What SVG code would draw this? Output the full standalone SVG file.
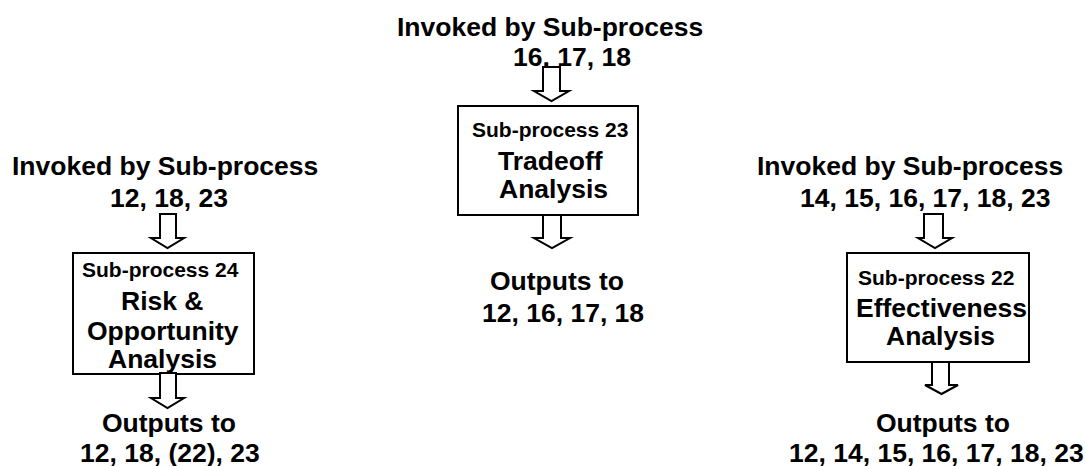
<svg xmlns="http://www.w3.org/2000/svg" width="1086" height="466" viewBox="0 0 1086 466">
<style>
text{font-family:"Liberation Sans",Arial,Helvetica,sans-serif;font-weight:bold;fill:#000}
.l{font-size:26.5px}
.s{font-size:21px}
.box{fill:#fff;stroke:#000;stroke-width:2}
.arr{fill:#fff;stroke:#000;stroke-width:2;stroke-linejoin:miter}
</style>
<rect width="1086" height="466" fill="#fff"/>
<g id="labels">
<text class="l" x="397" y="36">Invoked by Sub-process</text>
<text class="l" x="513" y="66">16, 17, 18</text>
<text class="l" x="490" y="290">Outputs to</text>
<text class="l" x="482" y="322">12, 16, 17, 18</text>
<text class="l" x="12" y="175">Invoked by Sub-process</text>
<text class="l" x="110" y="207">12, 18, 23</text>
<text class="l" x="102" y="432">Outputs to</text>
<text class="l" x="80" y="462">12, 18, (22), 23</text>
<text class="l" x="757" y="175">Invoked by Sub-process</text>
<text class="l" x="800" y="207">14, 15, 16, 17, 18, 23</text>
<text class="l" x="876" y="432">Outputs to</text>
<text class="l" x="789" y="462">12, 14, 15, 16, 17, 18, 23</text>
</g>
<g id="node23">
<rect class="box" x="458" y="106" width="180" height="109"/>
<text class="s" x="472" y="137">Sub-process 23</text>
<text class="l" x="498" y="170">Tradeoff</text>
<text class="l" x="499" y="198">Analysis</text>
</g>
<g id="node24">
<rect class="box" x="73" y="253" width="181" height="121"/>
<text class="s" x="82" y="277">Sub-process 24</text>
<text class="l" x="121" y="310">Risk &amp;</text>
<text class="l" x="87" y="340">Opportunity</text>
<text class="l" x="108" y="368">Analysis</text>
</g>
<g id="node22">
<rect class="box" x="847" y="253" width="182" height="109"/>
<text class="s" x="858" y="285">Sub-process 22</text>
<text class="l" x="856" y="317">Effectiveness</text>
<text class="l" x="886" y="345">Analysis</text>
</g>
<g id="connectors">
<path class="arr" d="M543,67 H560 V91 H569 L551.5,101 L534,91 H543 Z"/>
<path class="arr" d="M543,215 H561 V238 H570 L552,248 L534,238 H543 Z"/>
<path class="arr" d="M160,214 H176 V238 H184 L167.5,248 L151,238 H160 Z"/>
<path class="arr" d="M160,373 H176 V398 H184 L167.5,408 L151,398 H160 Z"/>
<path class="arr" d="M924,214 H943 V238 H952 L935,248 L918,238 H924 Z"/>
<path class="arr" d="M932,362 H949 V385 H958 L941.5,394 L925,385 H932 Z"/>
</g>
</svg>
